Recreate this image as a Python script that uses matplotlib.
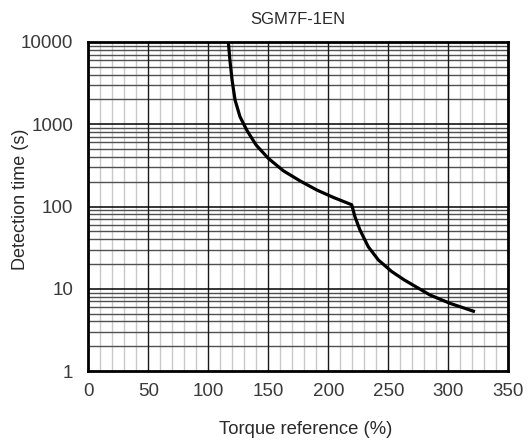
import matplotlib
matplotlib.use("Agg")
import matplotlib.pyplot as plt
from matplotlib.ticker import FixedLocator, NullFormatter, FixedFormatter

plt.rcParams['font.family'] = ['Liberation Sans', 'DejaVu Sans']

title = "SGM7F-1EN"
xlabel = "Torque reference (%)"
ylabel = "Detection time (s)"

# curve
torque = [116.7, 118.0, 119.8, 122.3, 126.4, 132.0, 139.8, 150.0, 162.5, 176.4, 190.3, 204.2, 219.5,
          222.2, 226.4, 233.3, 241.7, 252.8, 263.3, 284.7, 301.4, 322.2]
time_s = [10000, 6040, 3450, 1970, 1236, 851, 560, 385, 272, 205, 159, 129, 105,
          75, 51.8, 32.4, 22.4, 16.2, 12.8, 8.4, 6.65, 5.26]

xticks = [0, 50, 100, 150, 200, 250, 300, 350]
yticks = [1, 10, 100, 1000, 10000]
ytick_labels = ["1", "10", "100", "1000", "10000"]

fig = plt.figure(figsize=(5.28, 4.41), dpi=100)
L, R, T, B = 88.3, 508.3, 42, 371
ax = fig.add_axes([L/528, 1-B/441, (R-L)/528, (B-T)/441])

ax.set_xlim(0, 350)
ax.set_yscale('log')
ax.set_ylim(1, 10000)

# grid
for x in range(10, 350, 10):
    if x % 50:
        ax.axvline(x, color='#c8c8c8', lw=1.0, zorder=1)
for x in range(50, 350, 50):
    ax.axvline(x, color='#1a1a1a', lw=1.0, zorder=2)
for d in [1, 10, 100, 1000]:
    for m in range(2, 10):
        ax.axhline(d*m, color='#505050', lw=1.0, zorder=1)
for d in [10, 100, 1000]:
    ax.axhline(d, color='#000000', lw=1.1, zorder=2)

ax.plot(torque, time_s, color='black', lw=2.3, zorder=3,
        solid_capstyle='butt', solid_joinstyle='round')

ax.xaxis.set_major_locator(FixedLocator(xticks))
ax.yaxis.set_major_locator(FixedLocator(yticks))
ax.yaxis.set_major_formatter(FixedFormatter(ytick_labels))
ax.yaxis.set_minor_formatter(NullFormatter())
ax.yaxis.set_minor_locator(FixedLocator([]))
ax.tick_params(axis='both', which='both', length=0, labelsize=13.5, colors='#3a3a3a')
ax.tick_params(axis='y', pad=11)
ax.tick_params(axis='x', pad=9)

for s in ax.spines.values():
    s.set_linewidth(2.0)
    s.set_color('black')
    s.set_zorder(4)

fig.text((L+R)/2/528, 1-20/441, title, ha='center', va='center',
         fontsize=12, color='#2a2a2a')
ax.set_xlabel(xlabel, fontsize=13.3, color='#2a2a2a')
ax.xaxis.set_label_coords((306-L)/(R-L), (B-429)/(B-T))
ax.xaxis.label.set_va('center')
ax.set_ylabel(ylabel, fontsize=13, color='#2a2a2a')
ax.yaxis.set_label_coords((20-L)/(R-L), (B-199)/(B-T))
ax.yaxis.label.set_va('center')

fig.savefig("out.png", dpi=100)
